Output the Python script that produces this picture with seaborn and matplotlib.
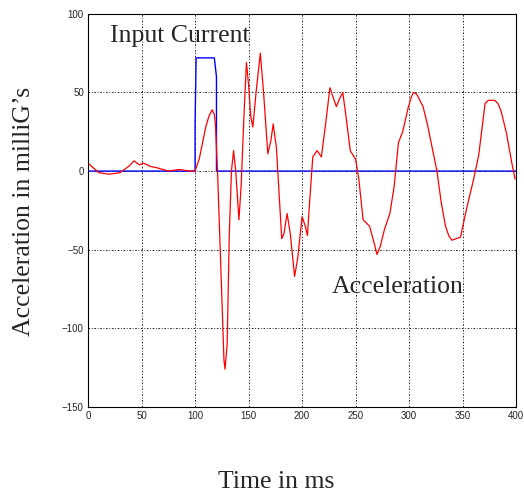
import numpy as np
import pandas as pd
import matplotlib
matplotlib.use("Agg")
import matplotlib.pyplot as plt
import seaborn as sns

# acceleration trace (ms, milliG)
accel_t = [0, 5, 10, 20, 30, 38, 43, 48, 52, 58, 65, 75, 85, 95, 100, 104, 107, 110, 113, 116,
           118, 119, 121, 124, 127, 128, 130, 132, 134, 136, 138, 141, 143, 146, 148, 150, 152,
           154, 157, 161, 164, 168, 171, 173, 176, 179, 181, 183, 186, 189, 193, 196, 200, 203,
           205, 207, 210, 214, 218, 222, 226, 229, 232, 235, 238, 241, 245, 250, 253, 257, 263,
           267, 270, 273, 277, 282, 286, 290, 294, 299, 302, 304, 307, 310, 313, 317, 320, 326,
           330, 334, 337, 340, 344, 348, 354, 360, 365, 371, 374, 377, 380, 383, 386, 391, 396,
           399]
accel_v = [5, 2, -1, -2, -1, 3, 6.5, 4, 5, 3, 2, 0, 1, 0, 0, 8, 18, 28, 35, 39,
           36, 30, 0, -60, -120, -126, -110, -40, 0, 13, 0, -31, -10, 40, 69, 55, 35,
           28, 50, 75, 50, 11, 20, 30, 15, -20, -43, -40, -27, -40, -67, -55, -29, -35,
           -41, -20, 9, 13, 9, 30, 53, 47, 41, 46, 50, 35, 13, 7.5, -5, -31, -35,
           -45, -53, -48, -37, -27, -10, 18, 25, 40, 47, 50, 49, 45, 41, 30, 20, 0,
           -20, -35, -41, -44, -43, -42, -23, -6, 10, 43, 45, 45, 45, 43, 38, 24, 5,
           -5]

# input current pulse
current_t = [0, 100, 100, 101, 118, 120, 120, 400]
current_v = [0, 0, 29, 72, 72, 60, 0, 0]

accel = pd.DataFrame({"t": accel_t, "v": accel_v})
current = pd.DataFrame({"t": current_t, "v": current_v})

sns.set_style("white")
fig = plt.figure(figsize=(5.24, 4.95), dpi=100)
ax = fig.add_axes([0.168, 0.178, 0.817, 0.794])

sns.lineplot(data=current, x="t", y="v", sort=False, estimator=None,
             color="#0000ff", lw=1.0, ax=ax)
sns.lineplot(data=accel, x="t", y="v", sort=False, estimator=None,
             color="#ff0000", lw=0.9, ax=ax)

ax.set_xlim(0, 400)
ax.set_ylim(-150, 100)
ax.set_xticks(range(0, 401, 50))
ax.set_yticks(range(-150, 101, 50))
ax.grid(True, color="black", linestyle=(0, (2, 2, 1, 2)), lw=0.6)
for s in ax.spines.values():
    s.set_color("black")
    s.set_linewidth(0.8)
ax.tick_params(direction="in", length=4, labelsize=7, color="black", pad=3)
for lab in ax.get_xticklabels() + ax.get_yticklabels():
    lab.set_family("Liberation Sans")

ax.set_xlabel("")
ax.set_ylabel("")
serif = "Liberation Serif"
fig.text(0.527, 0.026, "Time in ms", family=serif, fontsize=18.5, ha="center", va="center")
fig.text(0.046, 0.572, "Acceleration in milliG\u2019s", family=serif, fontsize=18.5,
         rotation=90, ha="center", va="center")
ax.text(86, 86, "Input Current", family=serif, fontsize=18.5, ha="center", va="center")
ax.text(289, -74, "Acceleration", family=serif, fontsize=18.5, ha="center", va="center")

fig.savefig("out.png", dpi=100)
